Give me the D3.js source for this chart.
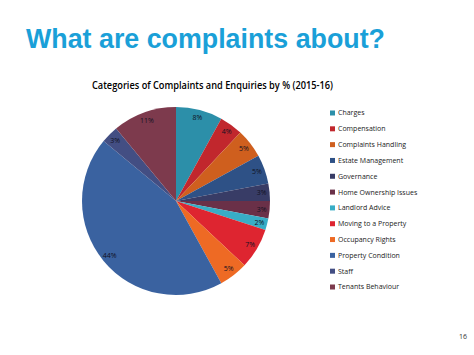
<!DOCTYPE html>
<html><head><meta charset="utf-8">
<script src="https://cdn.jsdelivr.net/npm/d3@7"></script>
<style>body{margin:0;background:#fff}svg{display:block}</style>
</head><body>
<script>
const categories = ["Charges","Compensation","Complaints Handling","Estate Management","Governance","Home Ownership Issues","Landlord Advice","Moving to a Property","Occupancy Rights","Property Condition","Staff","Tenants Behaviour"];
const values = [8,4,5,5,3,3,2,7,5,44,3,11];
const colors = ["#2C8FA9","#C1272D","#CF5F1E","#2E5186","#383C66","#6A3048","#38ADC6","#DE2530","#EE6A24","#3A62A0","#434E83","#7D3A4D"];

const W=474,H=355;
const svg=d3.select("body").append("svg").attr("width",W).attr("height",H);

svg.append("text").attr("x",26).attr("y",48)
  .attr("font-family","Liberation Sans, Arial, sans-serif").attr("font-weight","bold")
  .attr("font-size",28).attr("fill","#1AA0D8").attr("textLength",359).attr("lengthAdjust","spacingAndGlyphs")
  .text("What are complaints about?");

svg.append("text").attr("x",92).attr("y",89)
  .attr("font-family","Open Sans, sans-serif").attr("font-size",10).attr("font-weight",600).attr("fill","#000")
  .attr("textLength",241).attr("lengthAdjust","spacingAndGlyphs")
  .text("Categories of Complaints and Enquiries by % (2015-16)");

const cx=176, cy=201, r=94;
const data=categories.map((c,i)=>({c,v:values[i],col:colors[i]}));
const pie=d3.pie().value(d=>d.v).sort(null);
const arc=d3.arc().innerRadius(0).outerRadius(r);
const labArc=d3.arc().innerRadius(86).outerRadius(86);
const g=svg.append("g").attr("transform",`translate(${cx},${cy})`);
const arcs=pie(data);
g.selectAll("path").data(arcs).join("path").attr("d",arc).attr("fill",d=>d.data.col);
g.selectAll("text").data(arcs).join("text")
  .attr("transform",d=>`translate(${labArc.centroid(d)})`)
  .attr("text-anchor","middle").attr("dy","0.35em")
  .attr("font-family","Open Sans, sans-serif").attr("font-size",7).attr("fill","#111122")
  .text(d=>d.data.v+"%");

const y=d3.scalePoint().domain(categories).range([113,287]);
const lg=svg.append("g");
lg.selectAll("rect").data(data).join("rect")
  .attr("x",330).attr("y",d=>y(d.c)-2.5).attr("width",5).attr("height",5).attr("fill",d=>d.col);
lg.selectAll("text").data(data).join("text")
  .attr("x",338).attr("y",d=>y(d.c)).attr("dy","0.35em")
  .attr("font-family","Open Sans, sans-serif").attr("font-size",7).attr("fill","#222")
  .text(d=>d.c);

svg.append("text").attr("x",467).attr("y",339).attr("text-anchor","end")
  .attr("font-family","Open Sans, sans-serif").attr("font-size",7).attr("fill","#333").text("16");
</script>
</body></html>
